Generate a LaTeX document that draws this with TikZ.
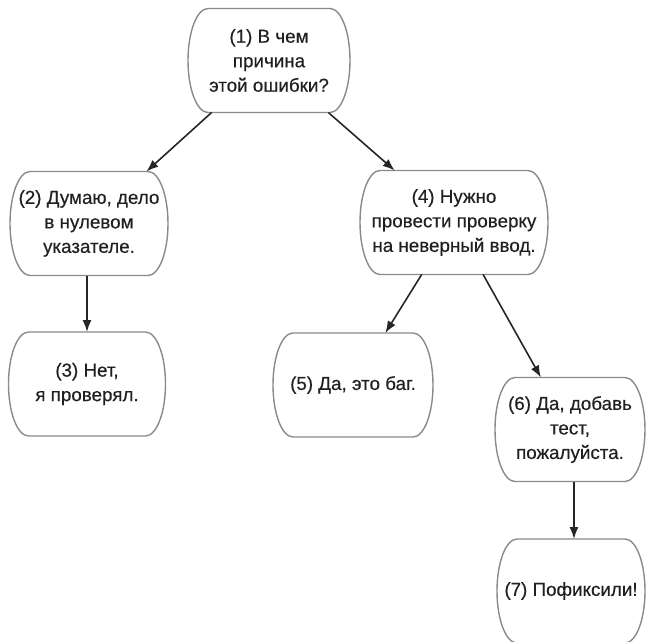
\documentclass[tikz,border=0pt]{standalone}
\usepackage{fontspec}
\setmainfont{Liberation Sans}[FakeBold=0.4]
\usetikzlibrary{arrows.meta}
\definecolor{inkdark}{HTML}{231F20}
\definecolor{edgegray}{HTML}{8A8A8A}
\definecolor{arrowdark}{HTML}{262626}
\tikzset{
  card/.style={minimum height=104pt, inner sep=0pt, outer sep=0pt, align=center,
    text=inkdark, font=\fontsize{18.8}{24.5}\selectfont},
  cardline/.style={draw=edgegray, line width=1.4pt},
  link/.style={draw=arrowdark, line width=1.6pt, -{Latex[length=12pt,width=9pt]}},
}
% Outline of a card: flat top and bottom, half-elliptic sides
\newcommand\cardoutline[1]{%
  \path[cardline] ([xshift=20pt]#1.north west) -- ([xshift=-20pt]#1.north east)
    arc[start angle=90, end angle=-90, x radius=20pt, y radius=52pt]
    -- ([xshift=20pt]#1.south west)
    arc[start angle=270, end angle=90, x radius=20pt, y radius=52pt] -- cycle;}
\begin{document}
\begin{tikzpicture}[x=1pt, y=-1pt]
  \useasboundingbox (0,0) rectangle (649,641);

  \node[card, minimum width=162pt] (n1) at (269,60.5) {(1) В чем\\причина\\этой ошибки?};
  \node[card, minimum width=158pt] (n2) at (89,223.5) {(2) Думаю, дело\\в нулевом\\указателе.};
  \node[card, minimum width=157pt] (n3) at (87,384) {(3) Нет,\\я проверял.};
  \node[card, minimum width=188pt] (n4) at (454,222.5) {(4) Нужно\\провести проверку\\на неверный ввод.};
  \node[card, minimum width=160pt] (n5) at (353,385) {(5) Да, это баг.};
  \node[card, minimum width=150pt] (n6) at (570,429.5) {(6) Да, добавь\\тест,\\пожалуйста.};
  \node[card, minimum width=148pt] (n7) at (571,591) {(7) Пофиксили!};

  \foreach \n in {n1,n2,n3,n4,n5,n6,n7} {\cardoutline{\n}}

  \draw[link] (n1) -- (n2);
  \draw[link] (n1) -- (n4);
  \draw[link] ([xshift=-2pt]n2.south) -- (n3.north);
  \draw[link] (n4) -- (n5);
  \draw[link] (n4) -- (n6);
  \draw[link] ([xshift=4pt]n6.south) -- ([xshift=3pt]n7.north);
\end{tikzpicture}
\end{document}
